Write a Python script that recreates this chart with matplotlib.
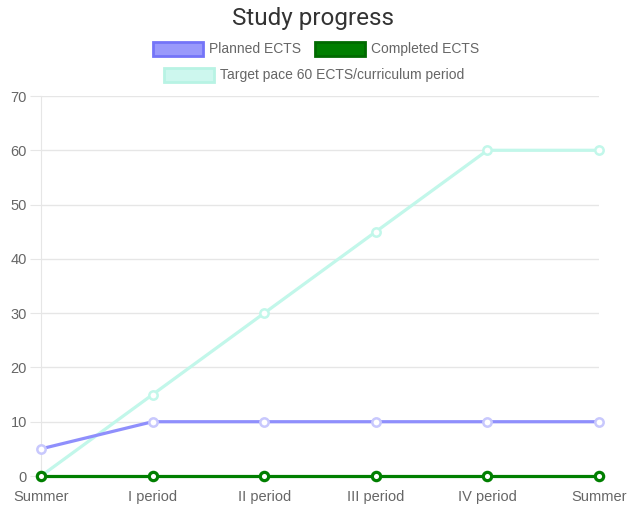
import matplotlib.pyplot as plt
from matplotlib.patches import Rectangle

# data
periods = ["Summer", "I period", "II period", "III period", "IV period", "Summer"]
planned = [5, 10, 10, 10, 10, 10]
completed = [0, 0, 0, 0, 0, 0]
target = [0, 15, 30, 45, 60, 60]
y_ticks = [0, 10, 20, 30, 40, 50, 60, 70]

planned_col = "#8f8ffc"
completed_col = "#007f00"
target_col = "#c2f7ea"
grid_col = "#e6e6e6"
text_col = "#666666"

plt.rcParams['font.family'] = ['Liberation Sans', 'DejaVu Sans']

fig = plt.figure(figsize=(6.27, 5.07), dpi=100)
ax = fig.add_axes([41 / 627, 1 - 476 / 507, (599 - 41) / 627, (476 - 96) / 507])

x = list(range(len(periods)))
ax.plot(x, target, color=target_col, lw=2.3, marker="o", ms=6, mfc="white",
        mec=target_col, mew=1.8, zorder=3, clip_on=False)
ax.plot(x, planned, color=planned_col, lw=2.3, marker="o", ms=6, mfc="white",
        mec="#c8c8fd", mew=1.8, zorder=4, clip_on=False)
ax.plot(x, completed, color=completed_col, lw=2.3, marker="o", ms=6, mfc="white",
        mec=completed_col, mew=2.3, zorder=5, clip_on=False)

ax.set_xlim(0, len(periods) - 1)
ax.set_ylim(0, 70)
ax.set_yticks(y_ticks)
ax.set_xticks(x)
ax.set_xticklabels(periods)
ax.grid(axis="y", color=grid_col, lw=1)
ax.set_axisbelow(True)
for s in ["top", "right", "bottom"]:
    ax.spines[s].set_visible(False)
ax.spines["left"].set_color(grid_col)
ax.tick_params(axis="y", colors=grid_col, labelcolor=text_col, length=8, labelsize=10.5, pad=2)
ax.tick_params(axis="x", length=0, labelcolor=text_col, labelsize=10.5, pad=10)

# title
fig.text(0.5, 1 - 19 / 507, "Study progress", ha="center", va="center",
         fontsize=17.5, color="#333333", family=["Roboto", "DejaVu Sans"])

# legend drawn by hand, two centred rows like the original
def legend_item(x0, y0, col, edge, label):
    fig.patches.append(Rectangle((x0 / 627, 1 - (y0 + 7) / 507), 50 / 627, 14 / 507,
                                 transform=fig.transFigure, facecolor=col, edgecolor=edge, lw=2))
    fig.text((x0 + 56) / 627, 1 - y0 / 507, label, ha="left", va="center",
             fontsize=10, color=text_col)

legend_item(153, 49, "#9999fb", "#7474f8", "Planned ECTS")
legend_item(315, 49, completed_col, "#006a00", "Completed ECTS")
legend_item(164, 75, "#cdf7ee", "#b8f3e4", "Target pace 60 ECTS/curriculum period")

fig.savefig("out.png", dpi=100)
